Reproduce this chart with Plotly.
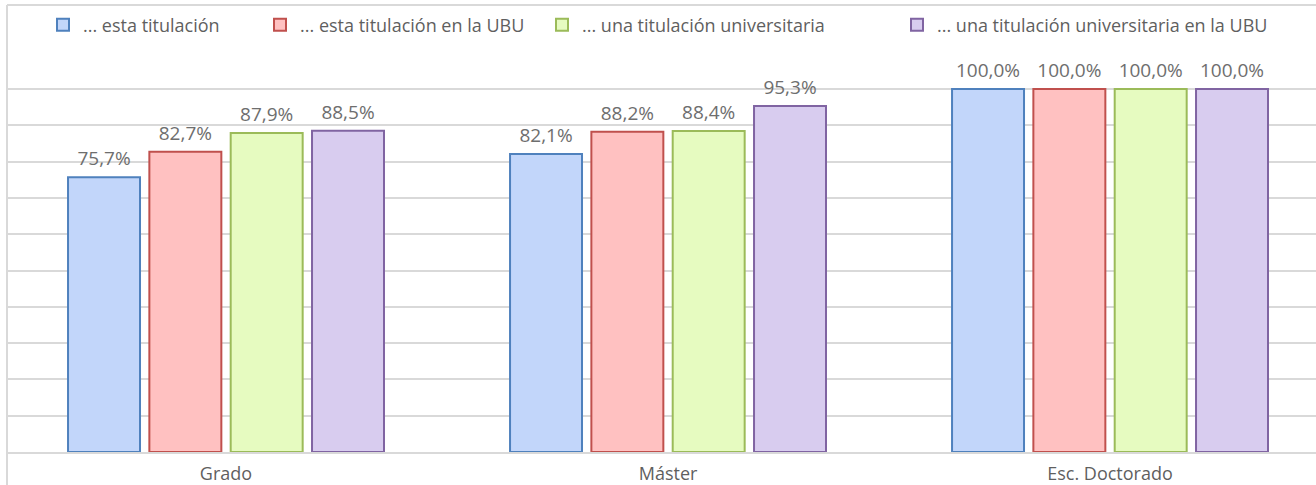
import plotly.graph_objects as go

categories = ["Grado", "Máster", "Esc. Doctorado"]
series_names = [
    "... esta titulación",
    "... esta titulación en la UBU",
    "... una titulación universitaria",
    "... una titulación universitaria en la UBU",
]
esta_titulacion = [0.757, 0.821, 1.000]
esta_titulacion_ubu = [0.827, 0.882, 1.000]
una_titulacion = [0.879, 0.884, 1.000]
una_titulacion_ubu = [0.885, 0.953, 1.000]
y_ticks = [0, 0.1, 0.2, 0.3, 0.4, 0.5, 0.6, 0.7, 0.8, 0.9, 1.0]

series_values = [esta_titulacion, esta_titulacion_ubu, una_titulacion, una_titulacion_ubu]
fills = ["#c2d6fa", "#ffc1c1", "#e6fbc0", "#d8ccef"]
borders = ["#4f81bd", "#c0504d", "#9bbb59", "#8064a2"]
legend_ids = ["legend", "legend2", "legend3", "legend4"]
legend_x = [0.0275, 0.1933, 0.4087, 0.6799]

FONT = "Open Sans, Noto Sans, sans-serif"
GRAY = "#5f5f5f"
LABEL_GRAY = "#6e6e6e"

fig = go.Figure()
for name, vals, fc, bc, lg in zip(series_names, series_values, fills, borders, legend_ids):
    fig.add_trace(go.Bar(
        x=categories, y=vals, name=name, legend=lg,
        marker=dict(color=fc, line=dict(color=bc, width=2)),
        offsetgroup=name,
    ))
for name, vals in zip(series_names, series_values):
    fig.add_trace(go.Scatter(
        x=categories, y=vals, mode="markers+text", showlegend=False,
        marker=dict(size=10, opacity=0), offsetgroup=name,
        texttemplate="%{y:.1%}", textposition="top center",
        textfont=dict(family=FONT, size=19, color=LABEL_GRAY),
        cliponaxis=False, hoverinfo="skip",
    ))

legends = {}
for lg, lx in zip(legend_ids, legend_x):
    legends[lg] = dict(orientation="h", x=lx, xanchor="left", y=0.955, yanchor="middle",
                       font=dict(family=FONT, size=18, color=GRAY),
                       itemwidth=30, bgcolor="rgba(0,0,0,0)")

fig.update_layout(
    width=1316, height=485,
    margin=dict(l=7, r=0, t=5, b=33),
    paper_bgcolor="white", plot_bgcolor="white",
    barmode="group", bargap=0.264, bargroupgap=0.115,
    scattermode="group", scattergap=0.264,
    separators=",.",
    font=dict(family=FONT, size=18, color=GRAY),
    showlegend=True,
    xaxis=dict(range=[-0.4955, 2.466], showline=True, linecolor="#d9d9d9", linewidth=2,
               showgrid=False, ticks="", tickfont=dict(family=FONT, size=18, color=GRAY),
               ticklabelstandoff=4, automargin=False),
    yaxis=dict(range=[0, 1.2314], tickvals=y_ticks, showticklabels=False,
               showgrid=True, gridcolor="#d9d9d9", gridwidth=1.5, zeroline=False,
               showline=False, automargin=False),
    shapes=[
        dict(type="line", xref="paper", yref="paper", x0=0, x1=0, y0=-0.08, y1=1.0,
             line=dict(color="#d9d9d9", width=2)),
        dict(type="line", xref="paper", yref="paper", x0=0, x1=1.0, y0=1.0, y1=1.0,
             line=dict(color="#d9d9d9", width=2)),
    ],
    **legends,
)

fig.write_html("out.html", config={"displayModeBar": False},
               post_script="document.body.style.margin='0px';")
